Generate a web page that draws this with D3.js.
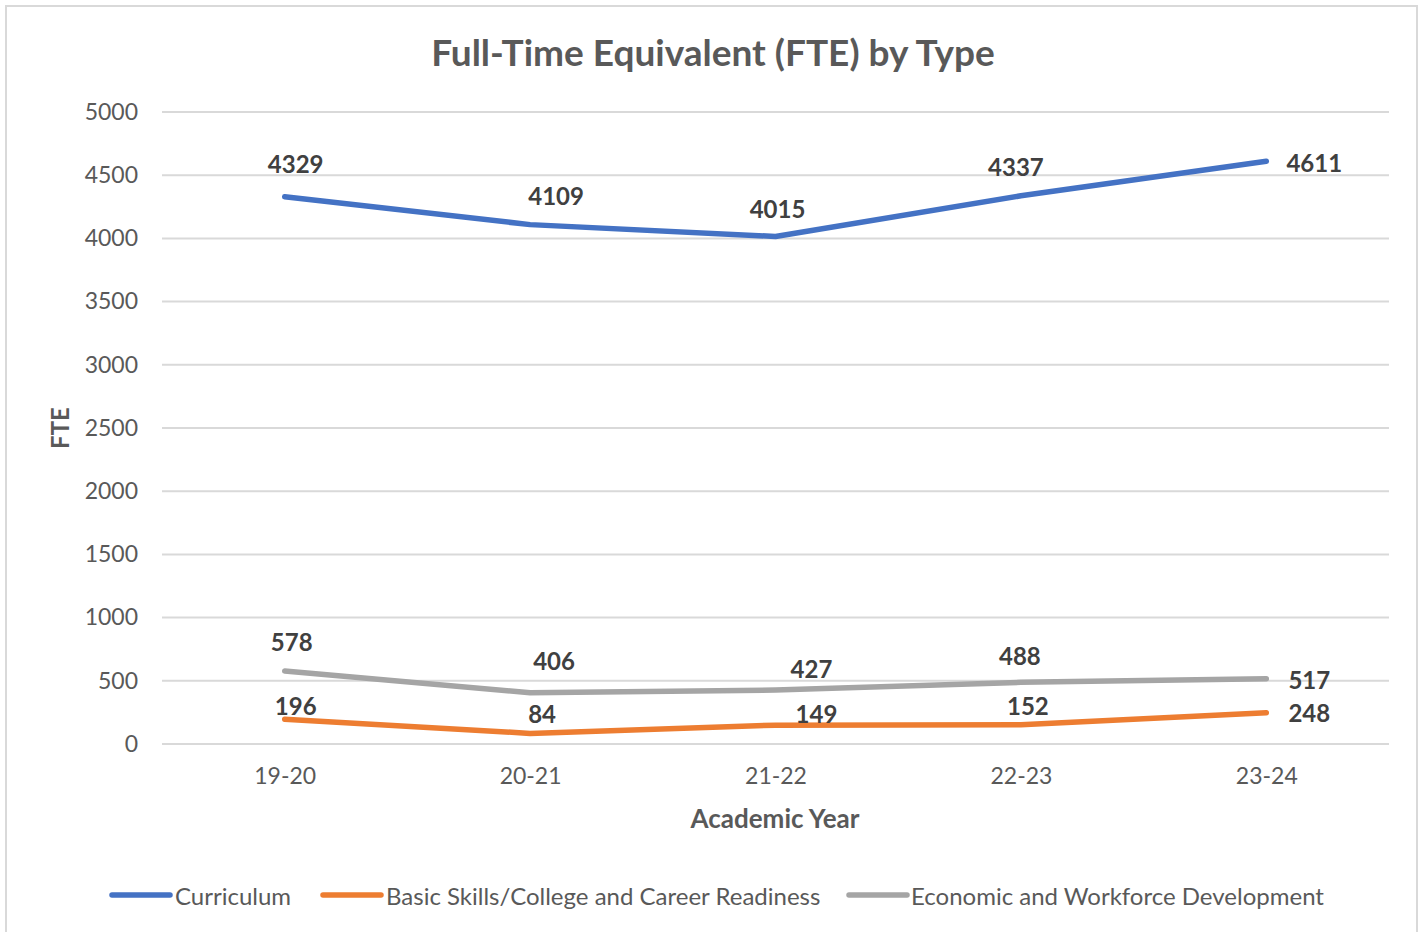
<!DOCTYPE html>
<html>
<head>
<meta charset="utf-8">
<script src="https://cdn.jsdelivr.net/npm/d3@7"></script>
<style>
  html, body { margin: 0; padding: 0; background: #fff; }
  svg { display: block; font-family: Lato, "Open Sans", sans-serif; }
</style>
</head>
<body>
<svg id="chart" width="1426" height="932"></svg>
<script>
const categories = ["19-20", "20-21", "21-22", "22-23", "23-24"];
const seriesNames = ["Curriculum", "Basic Skills/College and Career Readiness", "Economic and Workforce Development"];
const curriculum = [4329, 4109, 4015, 4337, 4611];
const basicSkills = [196, 84, 149, 152, 248];
const economic = [578, 406, 427, 488, 517];
const yTicks = [0, 500, 1000, 1500, 2000, 2500, 3000, 3500, 4000, 4500, 5000];

const colors = ["#4472C4", "#ED7D31", "#A5A5A5"];
// label placement offsets (dx, dy from point, px)
const labelOffsets = [
  [[11, -33], [26, -29], [2, -28], [-5, -29], [48, 1]],
  [[11, -14], [12, -20], [41, -12], [7, -19], [43, 0]],
  [[7, -29], [24, -32], [36, -22], [-1, -27], [43, 1]]
];

const series = [curriculum, basicSkills, economic].map((vals, i) => ({
  name: seriesNames[i], color: colors[i],
  values: vals.map((v, j) => ({ cat: categories[j], v }))
}));

const svg = d3.select("#chart");
const plotL = 162, plotR = 1389, plotT = 112, plotB = 744;

// outer border
svg.append("rect").attr("x", 6).attr("y", 6).attr("width", 1411).attr("height", 940)
  .attr("fill", "#fff").attr("stroke", "#d9d9d9").attr("stroke-width", 2);

const x = d3.scalePoint().domain(categories).range([plotL, plotR]).padding(0.5);
const y = d3.scaleLinear().domain([0, 5000]).range([plotB, plotT]);

// gridlines
svg.append("g").selectAll("line").data(yTicks).join("line")
  .attr("x1", plotL).attr("x2", plotR)
  .attr("y1", d => y(d)).attr("y2", d => y(d))
  .attr("stroke", "#d9d9d9").attr("stroke-width", 2);

// y axis
const yAxis = svg.append("g").attr("transform", `translate(${plotL},0)`)
  .call(d3.axisLeft(y).tickValues(yTicks).tickFormat(d3.format("d")).tickSize(0).tickPadding(24));
yAxis.select(".domain").remove();
yAxis.selectAll("text").attr("font-size", 23).attr("fill", "#595959")
  .attr("font-family", "Lato, sans-serif");

// x axis
const xAxis = svg.append("g").attr("transform", `translate(0,${plotB})`)
  .call(d3.axisBottom(x).tickSize(0).tickPadding(24));
xAxis.select(".domain").remove();
xAxis.selectAll("text").attr("font-size", 23).attr("fill", "#595959")
  .attr("font-family", "Lato, sans-serif");

// title
svg.append("text").attr("x", 713).attr("y", 66).attr("text-anchor", "middle")
  .attr("font-size", 37).attr("font-weight", "bold").attr("fill", "#595959")
  .text("Full-Time Equivalent (FTE) by Type");

// axis titles
svg.append("text").attr("x", 775).attr("y", 828).attr("text-anchor", "middle")
  .attr("font-size", 26).attr("font-weight", "bold").attr("fill", "#595959")
  .text("Academic Year");
svg.append("text").attr("transform", "translate(69,428) rotate(-90)")
  .attr("text-anchor", "middle")
  .attr("font-size", 24).attr("font-weight", "bold").attr("fill", "#595959")
  .text("FTE");

// lines
const line = d3.line().x(d => x(d.cat)).y(d => y(d.v));
svg.append("g").selectAll("path").data(series).join("path")
  .attr("d", d => line(d.values))
  .attr("fill", "none").attr("stroke", d => d.color)
  .attr("stroke-width", 5.5).attr("stroke-linecap", "round").attr("stroke-linejoin", "round");

// data labels
series.forEach((s, i) => {
  svg.append("g").selectAll("text").data(s.values).join("text")
    .attr("x", (d, j) => x(d.cat) + labelOffsets[i][j][0])
    .attr("y", (d, j) => y(d.v) + labelOffsets[i][j][1])
    .attr("text-anchor", "middle").attr("dominant-baseline", "central")
    .attr("font-size", 24).attr("font-weight", "bold").attr("fill", "#404040")
    .text(d => d.v);
});

// legend
const legendItems = [
  { x: 112, tx: 175 },
  { x: 323, tx: 386 },
  { x: 849, tx: 911 }
];
const lg = svg.append("g");
series.forEach((s, i) => {
  const it = legendItems[i];
  lg.append("line").attr("x1", it.x).attr("x2", it.x + 58).attr("y1", 895).attr("y2", 895)
    .attr("stroke", s.color).attr("stroke-width", 5.5).attr("stroke-linecap", "round");
  lg.append("text").attr("x", it.tx).attr("y", 895).attr("dominant-baseline", "central")
    .attr("font-size", 24).attr("fill", "#595959").text(s.name);
});
</script>
</body>
</html>
